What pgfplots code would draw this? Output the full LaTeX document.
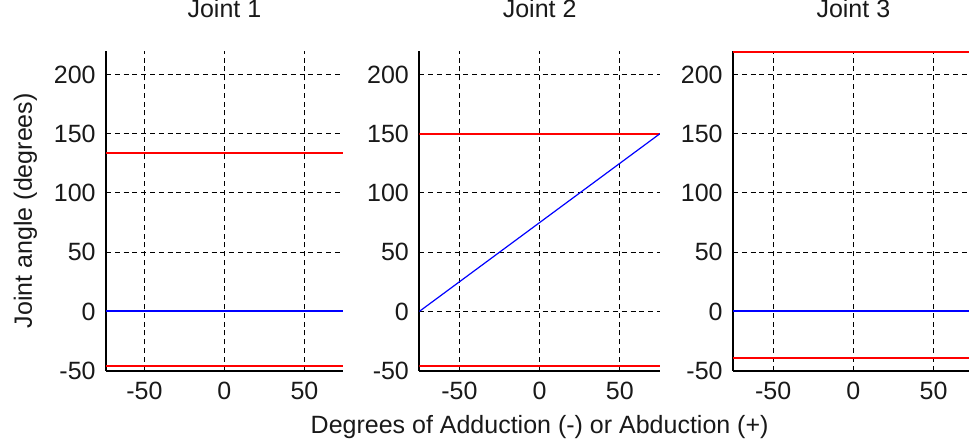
\documentclass[border=0pt]{standalone}
\usepackage{pgfplots}
\pgfplotsset{compat=1.18}
\usepackage{fontspec}
\setmainfont{Liberation Sans}
\begin{document}
\begin{tikzpicture}
\pgfplotsset{
 jstyle/.style={
  scale only axis, height=160pt,
  axis x line*=bottom, axis y line*=left,
  axis line style={black, line width=1pt},
  ymin=-50, ymax=220,
  xtick={-50,0,50}, xticklabels={-50,0,50},
  ytick={-50,0,50,100,150,200}, yticklabels={-50,0,50,100,150,200},
  tick align=inside, major tick length=2pt, tick style={black, line width=0.5pt},
  grid=major, major grid style={black, line width=0.5pt, dash pattern=on 2.5pt off 1.9pt},
  ticklabel style={font=\fontsize{12.5}{14}\selectfont, text=black!90},
  xticklabel style={inner sep=0pt, anchor=north, yshift=-5.5pt},
  yticklabel style={inner sep=0pt, anchor=east, xshift=-5pt},
  title style={font=\fontsize{12.5}{14}\selectfont, text=black!90, at={(axis description cs:0.5,1)}, anchor=base, yshift=10.8pt},
  label style={font=\fontsize{12.5}{14}\selectfont, text=black!90},
 }
}
\begin{axis}[jstyle, at={(53pt,36.65pt)}, anchor=south west, width=118.4pt,
  xmin=-74, xmax=74, title={Joint 1},
  ylabel={Joint angle (degrees)},
  ylabel style={at={(axis description cs:-0.3125,0.5)}, anchor=base, rotate=0}]
\addplot[draw=red, line width=0.9pt, no marks] coordinates {(-74,133.5) (74,133.5)};
\addplot[draw=red, line width=0.9pt, no marks] coordinates {(-74,-46) (74,-46)};
\addplot[draw=blue, line width=0.9pt, no marks] coordinates {(-74,0.2) (0,0.2) (74,0.2)};
\end{axis}
\begin{axis}[jstyle, at={(209.65pt,36.65pt)}, anchor=south west, width=120.35pt,
  xmin=-75, xmax=75, title={Joint 2},
  xlabel={Degrees of Adduction (-) or Abduction (+)},
  xlabel style={at={(axis description cs:0.5,0)}, anchor=base, yshift=-31.2pt}]
\addplot[draw=red, line width=0.9pt, no marks] coordinates {(-75,150) (75,150)};
\addplot[draw=red, line width=0.9pt, no marks] coordinates {(-75,-46) (75,-46)};
\addplot[draw=blue, line width=0.6pt, no marks] coordinates {(-75,0) (75,150)};
\end{axis}
\begin{axis}[jstyle, at={(366.5pt,36.65pt)}, anchor=south west, width=120.35pt,
  xmin=-75, xmax=75, title={Joint 3}]
\addplot[draw=red, line width=0.9pt, no marks] coordinates {(-75,219) (75,219)};
\addplot[draw=red, line width=0.9pt, no marks] coordinates {(-75,-39) (75,-39)};
\addplot[draw=blue, line width=0.9pt, no marks] coordinates {(-75,0.2) (0,0.2) (75,0.2)};
\end{axis}
\pgfresetboundingbox
\path[use as bounding box] (0,0) rectangle (484.5pt,222pt);
\end{tikzpicture}
\end{document}
